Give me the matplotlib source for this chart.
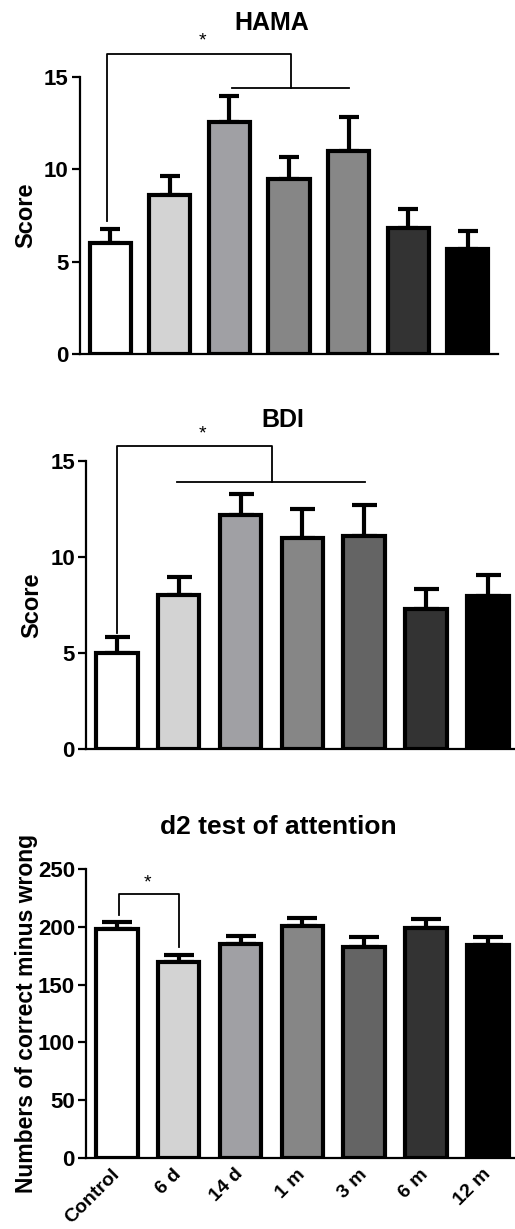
import numpy as np
import matplotlib
matplotlib.use('Agg')
import matplotlib.pyplot as plt

plt.rcParams['font.family'] = ['Liberation Sans', 'DejaVu Sans']
plt.rcParams['font.weight'] = 'bold'

groups = ['Control', '6 d', '14 d', '1 m', '3 m', '6 m', '12 m']

hama_mean = [6.0, 8.6, 12.55, 9.45, 11.0, 6.85, 5.7]
hama_sem = [0.75, 1.05, 1.4, 1.2, 1.8, 1.0, 0.95]

bdi_mean = [5.0, 8.05, 12.2, 11.0, 11.1, 7.3, 8.0]
bdi_sem = [0.85, 0.9, 1.1, 1.5, 1.6, 1.05, 1.05]

d2_mean = [198, 170, 185, 201, 183, 199, 184]
d2_sem = [6, 6, 7, 7, 8, 8, 7]

colors_hama = ['#ffffff', '#d3d3d3', '#a0a0a4', '#868686', '#878787', '#333333', '#000000']
colors_other = ['#ffffff', '#d3d3d3', '#a0a0a4', '#868686', '#646464', '#333333', '#000000']

W, H = 515, 1229
fig = plt.figure(figsize=(W / 100, H / 100), dpi=100)

ax1 = fig.add_axes([0.1553, 0.7117, 0.8117, 0.2259])
ax2 = fig.add_axes([0.1670, 0.3903, 0.8330, 0.2346])
ax3 = fig.add_axes([0.1670, 0.0580, 0.8330, 0.2347])


def draw_panel(ax, mean, sem, colors, width, capsize, ylim, yticks, xlim, ylabel):
    x = np.arange(len(mean))
    ax.bar(x, mean, width=width, color=colors, edgecolor='black', linewidth=3, zorder=3)
    ax.errorbar(x, mean, yerr=[np.zeros(len(sem)), sem], fmt='none', ecolor='black',
                elinewidth=3, capsize=capsize, capthick=3, zorder=2)
    ax.set_xlim(*xlim)
    ax.set_ylim(*ylim)
    ax.set_yticks(yticks)
    ax.spines['top'].set_visible(False)
    ax.spines['right'].set_visible(False)
    ax.spines['left'].set_linewidth(1.6)
    ax.spines['bottom'].set_linewidth(1.6)
    ax.spines['left'].set_bounds(ylim[0], ylim[1])
    ax.tick_params(axis='y', length=6, width=1.6, labelsize=16, pad=2)
    ax.set_xticks(x)
    ax.tick_params(axis='x', length=0)
    ax.set_ylabel(ylabel, fontsize=17, fontweight='bold', labelpad=5)


def bracket(ax, xs, ys, lw=1.3):
    ax.plot(xs, ys, color='black', lw=lw, clip_on=False, zorder=4)


# HAMA
draw_panel(ax1, hama_mean, hama_sem, colors_hama, 0.69, 7, (0, 15), [0, 5, 10, 15],
           (-0.51, 6.51), 'Score')
ax1.set_xticklabels([])
bracket(ax1, [-0.05, -0.05, 3.04, 3.04], [7.2, 16.2, 16.2, 14.4])
bracket(ax1, [2.04, 4.0], [14.4, 14.4])
ax1.text(1.54, 16.45, '*', ha='center', va='bottom', fontsize=14, fontweight='normal')
fig.text(272 / W, 1 - 23 / H, 'HAMA', ha='center', va='center', fontsize=18, fontweight='bold')

# BDI
draw_panel(ax2, bdi_mean, bdi_sem, colors_other, 0.67, 9, (0, 15), [0, 5, 10, 15],
           (-0.50, 6.44), 'Score')
ax2.set_xticklabels([])
bracket(ax2, [0.0, 0.0, 2.51, 2.51], [6.05, 15.8, 15.8, 13.9])
bracket(ax2, [0.98, 4.02], [13.9, 13.9])
ax2.text(1.38, 15.95, '*', ha='center', va='bottom', fontsize=14, fontweight='normal')
fig.text(283 / W, 1 - 420 / H, 'BDI', ha='center', va='center', fontsize=18, fontweight='bold')

# d2
draw_panel(ax3, d2_mean, d2_sem, colors_other, 0.67, 11, (0, 250), [0, 50, 100, 150, 200, 250],
           (-0.50, 6.44), 'Numbers of correct minus wrong')
ax3.set_xticklabels(groups, rotation=45, ha='right', va='center', rotation_mode='anchor',
                    fontsize=14, fontweight='bold')
ax3.tick_params(axis='x', pad=10)
ax3.yaxis.label.set_size(16.5)
ax3.yaxis.labelpad = 0
bracket(ax3, [0.03, 0.03, 1.0, 1.0], [210, 229, 229, 183])
ax3.text(0.5, 231, '*', ha='center', va='bottom', fontsize=14, fontweight='normal')
fig.text(278 / W, 1 - 827 / H, 'd2 test of attention', ha='center', va='center',
         fontsize=19, fontweight='bold')

fig.savefig('out.png', dpi=100)
